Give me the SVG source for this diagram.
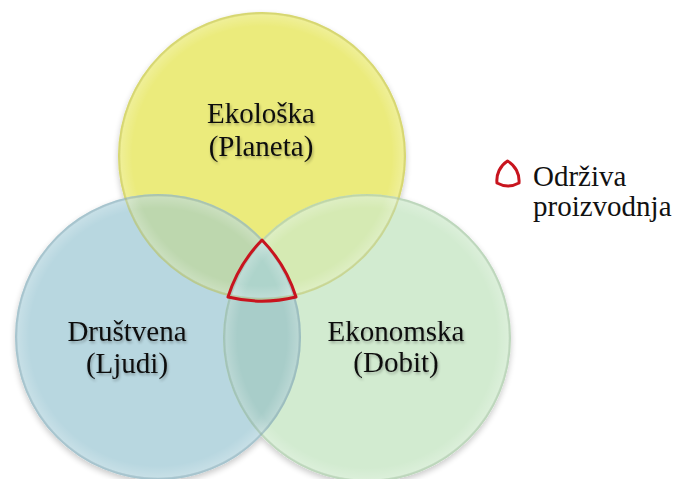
<svg xmlns="http://www.w3.org/2000/svg" width="675" height="479" viewBox="0 0 675 479">
<style>
.lbl{font-family:'Liberation Serif','DejaVu Serif',serif;font-size:29px;fill:#111;text-anchor:middle}
.leg{font-family:'Liberation Serif','DejaVu Serif',serif;font-size:29px;fill:#111}
.rim{fill:none;stroke-width:2;stroke-opacity:0.3}
.tri{fill:none;stroke:#C8141E;stroke-width:3;stroke-linejoin:round}
</style>
<defs>
<filter id="sh" x="-20%" y="-20%" width="140%" height="140%">
<feGaussianBlur in="SourceAlpha" stdDeviation="3"/>
<feOffset dx="0" dy="3" result="b"/>
<feComponentTransfer><feFuncA type="linear" slope="0.22"/></feComponentTransfer>
<feMerge><feMergeNode/><feMergeNode in="SourceGraphic"/></feMerge>
</filter>
<filter id="ts" x="-10%" y="-20%" width="120%" height="150%">
<feGaussianBlur in="SourceAlpha" stdDeviation="1.5"/>
<feOffset dx="1" dy="2"/>
<feComponentTransfer><feFuncA type="linear" slope="0.3"/></feComponentTransfer>
<feMerge><feMergeNode/><feMergeNode in="SourceGraphic"/></feMerge>
</filter>
<radialGradient id="gloss" cx="50%" cy="50%" r="50%">
<stop offset="0.9" stop-color="#fff" stop-opacity="0"/>
<stop offset="0.98" stop-color="#fff" stop-opacity="0.2"/>
<stop offset="1" stop-color="#000" stop-opacity="0.05"/>
</radialGradient>
<clipPath id="cY"><circle cx="262" cy="156" r="144"/></clipPath>
<clipPath id="cB"><circle cx="158" cy="337" r="143"/></clipPath>
<clipPath id="cG"><circle cx="367" cy="338" r="144"/></clipPath>
</defs>
<rect width="675" height="479" fill="#fff"/>
<g id="bases" filter="url(#sh)">
<circle cx="262" cy="156" r="144" fill="#EBEB7C"/>
<circle cx="158" cy="337" r="143" fill="#B8D7E0"/>
<circle cx="367" cy="338" r="144" fill="#D2EBD0"/>
</g>
<g id="overlaps">
<g clip-path="url(#cY)"><circle cx="158" cy="337" r="143" fill="#BDD7AE"/><circle cx="367" cy="338" r="144" fill="#D5EAB3"/></g>
<g clip-path="url(#cB)"><circle cx="367" cy="338" r="144" fill="#A8CDC9"/></g>
<g clip-path="url(#cB)"><g clip-path="url(#cG)"><circle cx="262" cy="156" r="144" fill="#AED4CB"/></g></g>
</g>
<g id="rims">
<circle cx="262" cy="156" r="144" fill="url(#gloss)"/>
<circle cx="158" cy="337" r="143" fill="url(#gloss)"/>
<circle cx="367" cy="338" r="144" fill="url(#gloss)"/>
<circle class="rim" cx="262" cy="156" r="143" stroke="#C9C960"/>
<circle class="rim" cx="158" cy="337" r="142" stroke="#95B6C2"/>
<circle class="rim" cx="367" cy="338" r="143" stroke="#A9C9AA"/>
</g>
<g id="ekoloska" filter="url(#ts)">
<text class="lbl" x="261" y="123">Ekološka</text>
<text class="lbl" x="261" y="156">(Planeta)</text>
</g>
<g id="drustvena" filter="url(#ts)">
<text class="lbl" x="127" y="341">Društvena</text>
<text class="lbl" x="127" y="373">(Ljudi)</text>
</g>
<g id="ekonomska" filter="url(#ts)">
<text class="lbl" x="396" y="341">Ekonomska</text>
<text class="lbl" x="396" y="372">(Dobit)</text>
</g>
<g id="core">
<path class="tri" d="M262 240 A144 144 0 0 0 228 297 A144 144 0 0 0 296 297 A143 143 0 0 0 262 240 Z"/>
</g>
<g id="legend">
<path class="tri" stroke-width="2.5" d="M507.5 161 A23 23 0 0 0 497 183 A23 23 0 0 0 519 183 A23 23 0 0 0 507.5 161 Z"/>
<text class="leg" x="533" y="186">Održiva</text>
<text class="leg" x="533" y="216">proizvodnja</text>
</g>
</svg>
